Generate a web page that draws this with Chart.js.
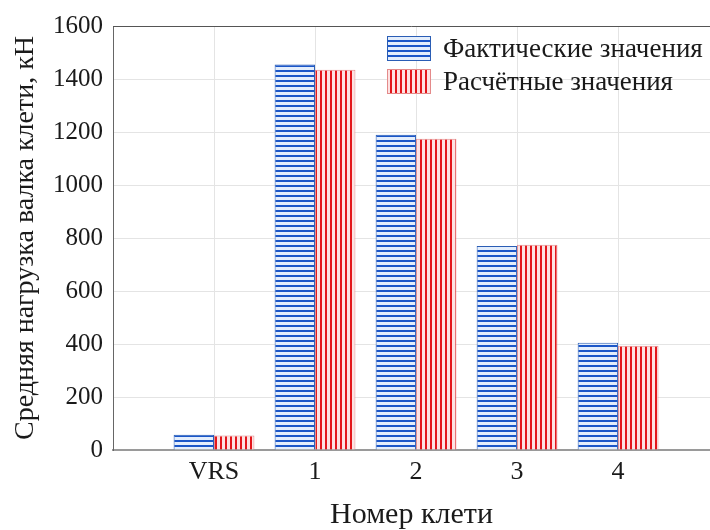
<!DOCTYPE html>
<html><head><meta charset="utf-8">
<script src="https://cdn.jsdelivr.net/npm/chart.js@4"></script>
<style>html,body{margin:0;padding:0;background:#fff}#wrap{width:710px;height:530px}</style>
</head><body><div id="wrap"><canvas id="c" width="710" height="530"></canvas></div>
<script>
const categories = ['VRS', '1', '2', '3', '4'];
const actualValues = [58, 1455, 1190, 770, 405];
const calculatedValues = [55, 1435, 1175, 775, 393];
const yTickValues = [0, 200, 400, 600, 800, 1000, 1200, 1400, 1600];
const seriesLabels = ['Фактические значения', 'Расчётные значения'];
const xTitle = 'Номер клети';
const yTitle = 'Средняя нагрузка валка клети, кН';

const FONT = "'Liberation Serif', 'Times New Roman', serif";

function stripePattern(horizontal, ink, paper, period, inkW) {
  const c = document.createElement('canvas');
  c.width = period; c.height = period;
  const g = c.getContext('2d');
  g.fillStyle = paper; g.fillRect(0, 0, period, period);
  g.fillStyle = ink;
  if (horizontal) g.fillRect(0, 0, period, inkW); else g.fillRect(0, 0, inkW, period);
  return document.getElementById('c').getContext('2d').createPattern(c, 'repeat');
}
const bluePat = stripePattern(true, '#1b56c8', '#e4eefc', 5, 2);
const redPat = stripePattern(false, '#e3161b', '#fde2e2', 5, 2);

const toPoints = arr => arr.map((v, i) => ({ x: i + 1, y: v }));

const decor = {
  id: 'decor',
  afterDatasetsDraw(chart) {
    const { ctx, chartArea: a } = chart;
    ctx.save();
    ctx.strokeStyle = '#555';
    ctx.lineWidth = 1;
    ctx.beginPath();
    ctx.moveTo(a.left, a.top + 0.5);
    ctx.lineTo(a.right, a.top + 0.5);
    ctx.stroke();
    // legend
    const bx = a.left + 274, bw = 44, bh = 25;
    const rows = [a.top + 10, a.top + 43];
    chart.data.datasets.forEach((ds, i) => {
      const y = rows[i];
      ctx.fillStyle = ds.backgroundColor;
      ctx.fillRect(bx, y, bw, bh);
      ctx.strokeStyle = ds.borderColor;
      ctx.strokeRect(bx + 0.5, y + 0.5, bw - 1, bh - 1);
      ctx.fillStyle = '#1a1a1a';
      ctx.font = '27px ' + FONT;
      ctx.textBaseline = 'middle';
      ctx.textAlign = 'left';
      ctx.fillText(ds.label, bx + 56, y + bh / 2 + 1);
    });
    ctx.restore();
  }
};

new Chart(document.getElementById('c'), {
  type: 'bar',
  data: {
    datasets: [
      { label: seriesLabels[0], data: toPoints(actualValues), backgroundColor: bluePat, borderColor: '#2a5db5', borderWidth: 1 },
      { label: seriesLabels[1], data: toPoints(calculatedValues), backgroundColor: redPat, borderColor: '#e48a8a', borderWidth: 1 }
    ]
  },
  options: {
    responsive: false,
    animation: false,
    categoryPercentage: 0.8,
    barPercentage: 1.0,
    layout: { padding: { top: 26, right: 0, left: 0, bottom: 0 } },
    plugins: { legend: { display: false }, tooltip: { enabled: false } },
    scales: {
      x: {
        type: 'linear',
        min: 0,
        max: 5.91,
        offset: false,
        afterBuildTicks: s => { s.ticks = categories.map((c, i) => ({ value: i + 1 })); },
        afterFit: s => { s.height = 80; },
        ticks: {
          autoSkip: false, maxRotation: 0, padding: 7,
          color: '#1a1a1a', font: { family: FONT, size: 26 },
          callback: v => categories[v - 1]
        },
        grid: { color: '#e4e4e4', drawTicks: false, offset: false },
        border: { color: '#9a9a9a', width: 2 },
        title: { display: true, text: xTitle, color: '#1a1a1a', font: { family: FONT, size: 30, lineHeight: 1 }, padding: { top: 0, bottom: 0 } }
      },
      y: {
        min: 0,
        max: 1600,
        afterBuildTicks: s => { s.ticks = yTickValues.map(v => ({ value: v })); },
        afterFit: s => { s.width = 113; },
        ticks: { padding: 10, color: '#1a1a1a', font: { family: FONT, size: 25 }, callback: v => String(v) },
        grid: { color: '#e4e4e4', drawTicks: false },
        border: { color: '#666', width: 1 },
        title: { display: true, text: yTitle, color: '#1a1a1a', font: { family: FONT, size: 28, lineHeight: 1 }, padding: { top: 12, bottom: 0 } }
      }
    }
  },
  plugins: [decor]
});
</script>
</body></html>
